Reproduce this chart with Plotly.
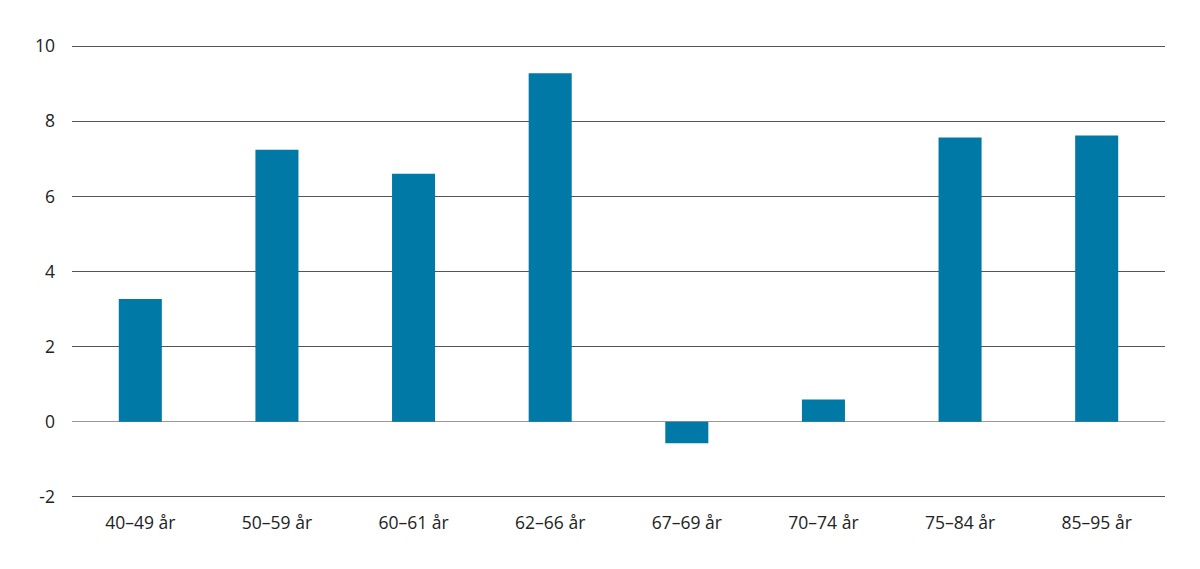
import plotly.graph_objects as go

categories = ["40–49 år", "50–59 år", "60–61 år", "62–66 år", "67–69 år", "70–74 år", "75–84 år", "85–95 år"]
values = [3.27, 7.24, 6.60, 9.28, -0.57, 0.59, 7.57, 7.62]
y_ticks = [-2, 0, 2, 4, 6, 8, 10]
y_tick_text = ["-2", "0", "2", "4", "6", "8", "10"]

fig = go.Figure(
    go.Bar(
        x=categories,
        y=values,
        marker_color="#0079a7",
        marker_line_width=0,
        width=0.315,
    )
)

# page body has an 8px margin, so the plot box is shifted back by that
fig.update_layout(
    width=1200,
    height=569,
    margin=dict(l=64, r=43, t=37, b=79),
    plot_bgcolor="white",
    paper_bgcolor="white",
    showlegend=False,
    font=dict(family="Open Sans", size=17.5, color="#222"),
    xaxis=dict(showgrid=False, showline=False, ticks="", ticklabelstandoff=12),
    yaxis=dict(
        range=[-2.03, 10.03],
        tickvals=y_ticks,
        ticktext=y_tick_text,
        gridcolor="#555",
        gridwidth=1,
        zeroline=True,
        zerolinecolor="#999",
        zerolinewidth=1,
        showline=False,
        ticks="",
        ticklabelstandoff=16,
    ),
)

fig.write_html("out.html")
